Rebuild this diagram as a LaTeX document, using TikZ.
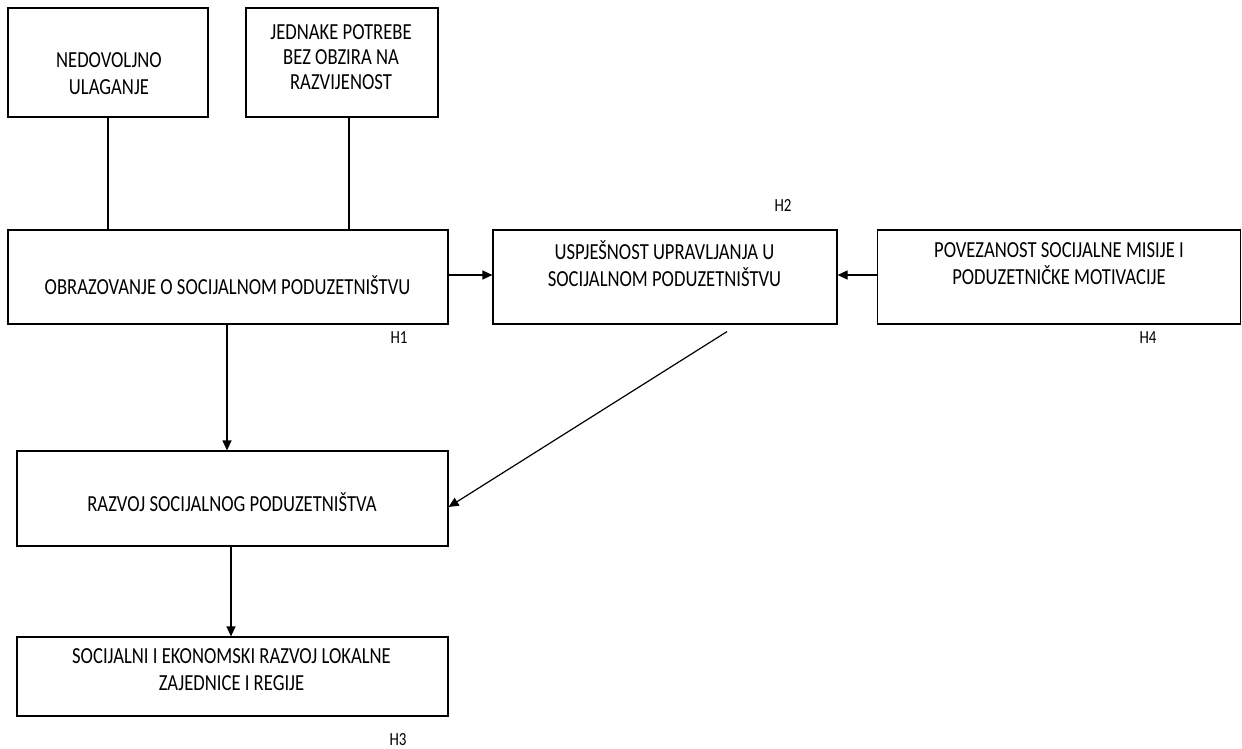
\documentclass[tikz,border=0pt]{standalone}
\usepackage{fontspec}
\setmainfont{Carlito}[FakeStretch=0.81]
\usetikzlibrary{arrows.meta}

\begin{document}
\begin{tikzpicture}[x=1pt, y=-1pt, line width=1.2pt,
    box/.style = {draw, inner sep=0pt},
    txt/.style = {align=center, font=\fontsize{23}{27}\selectfont},
    hyp/.style = {font=\fontsize{18.5}{22}\selectfont},
    arr/.style = {-{Triangle[length=10pt,width=9pt]}}]
    \useasboundingbox (0,0) rectangle (1242,749);

    \node[box, minimum width=200pt, minimum height=109pt] (ulag) at (108,62.5) {};
    \node[box, minimum width=192pt, minimum height=109pt] (jedn) at (342,62.5) {};
    \node[box, minimum width=440pt, minimum height=94pt] (obraz) at (228,277) {};
    \node[box, minimum width=344pt, minimum height=94pt] (uspj) at (665,277) {};
    \node[box, minimum width=363pt, minimum height=94pt] (pove) at (1059,277) {};
    \node[box, minimum width=431pt, minimum height=95pt] (razv) at (232.5,498.5) {};
    \node[box, minimum width=431pt, minimum height=79pt] (soc) at (232.5,676.5) {};

    \node[txt] (ulagT) at (109,74) {NEDOVOLJNO\\ULAGANJE};
    \node[txt, font=\fontsize{23}{25}\selectfont] (jednT) at (341,57) {JEDNAKE POTREBE\\BEZ OBZIRA NA\\RAZVIJENOST};
    \node[txt] (obrazT) at (227.5,285) {OBRAZOVANJE O SOCIJALNOM PODUZETNIŠTVU};
    \node[txt] (uspjT) at (664.5,263.5) {USPJEŠNOST UPRAVLJANJA U\\SOCIJALNOM PODUZETNIŠTVU};
    \node[txt] (poveT) at (1059,264) {POVEZANOST SOCIJALNE MISIJE I\\PODUZETNIČKE MOTIVACIJE};
    \node[txt] (razvT) at (232,502) {RAZVOJ SOCIJALNOG PODUZETNIŠTVA};
    \node[txt] (socT) at (231.5,670) {SOCIJALNI I EKONOMSKI RAZVOJ LOKALNE\\ZAJEDNICE I REGIJE};

    \node[hyp] (h1) at (399,338) {H1};
    \node[hyp] (h2) at (783,205) {H2};
    \node[hyp] (h3) at (398,740) {H3};
    \node[hyp] (h4) at (1148,338) {H4};

    \draw (ulag) -- (ulag |- obraz.north);
    \draw ([xshift=7pt]jedn.south) -- ([xshift=7pt]jedn.south |- obraz.north);
    \draw[arr] ([yshift=2pt]obraz.east) -- ([yshift=2pt]uspj.west);
    \draw[arr] ([yshift=2pt]pove.west) -- ([yshift=2pt]uspj.east);
    \draw[arr] ([xshift=-1pt]obraz.south) -- ([xshift=-1pt]obraz.south |- razv.north);
    \draw[arr] ([xshift=62pt,yshift=-7pt]uspj.south) -- ([yshift=-8.5pt]razv.east);
    \draw[arr] ([xshift=-1.5pt]razv.south) -- ([xshift=-1.5pt]razv.south |- soc.north);
\end{tikzpicture}
\end{document}
